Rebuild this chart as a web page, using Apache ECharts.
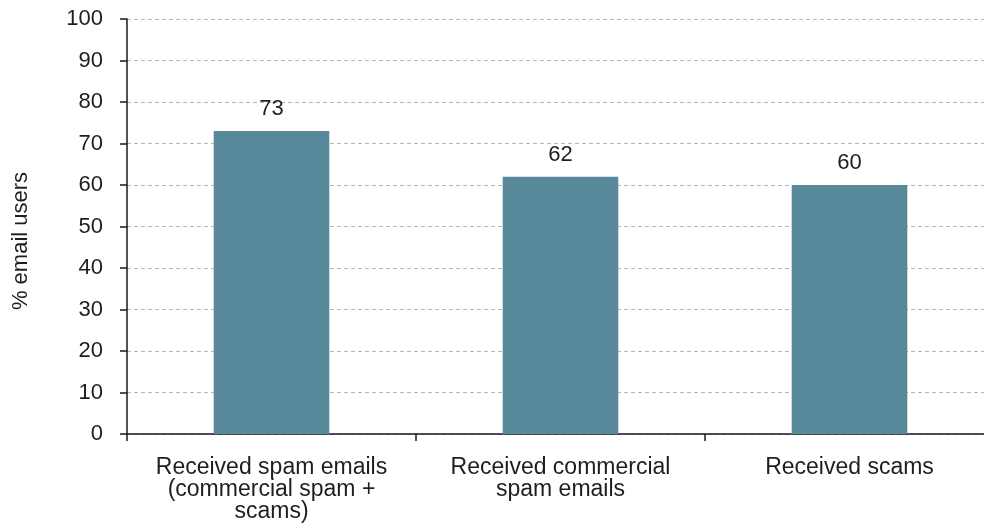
<!DOCTYPE html>
<html>
<head>
<meta charset="utf-8">
<script src="https://cdn.jsdelivr.net/npm/echarts@6/dist/echarts.min.js"></script>
<style>
  html, body { margin: 0; padding: 0; background: #ffffff; }
  #chart { width: 984px; height: 531px; }
</style>
</head>
<body>
<div id="chart"></div>
<script>
// Share of email users who received each kind of unwanted email
const categories = [
  'Received spam emails\n(commercial spam +\nscams)',
  'Received commercial\nspam emails',
  'Received scams'
];
const values = [73, 62, 60];
const yMin = 0;
const yMax = 100;
const yStep = 10;
const yAxisTitle = '% email users';

const FONT = '"Liberation Sans", Arial, sans-serif';
const TEXT = '#1e1e1e';
const SIZE = 22;

const chart = echarts.init(document.getElementById('chart'), null, { renderer: 'canvas' });
chart.setOption({
  animation: false,
  backgroundColor: '#ffffff',
  grid: { left: 127, top: 19, bottom: 97, right: -10, containLabel: false, outerBoundsMode: 'none' },
  xAxis: {
    type: 'category',
    data: categories,
    axisLine: { lineStyle: { color: '#1a1a1a', width: 1.5 } },
    axisTick: { show: true, alignWithLabel: false, interval: 0, length: 7, lineStyle: { color: '#1a1a1a', width: 1.5 } },
    axisLabel: { interval: 0, margin: 23, color: TEXT, fontFamily: FONT, fontSize: 23, lineHeight: 22, align: 'center' },
    splitLine: { show: false }
  },
  yAxis: {
    type: 'value',
    min: yMin,
    max: yMax,
    interval: yStep,
    axisLine: { show: true, lineStyle: { color: '#1a1a1a', width: 1.5 } },
    axisTick: { show: true, length: 7, lineStyle: { color: '#1a1a1a', width: 1.5 } },
    axisLabel: { margin: 24, color: TEXT, fontFamily: FONT, fontSize: SIZE },
    splitLine: { show: true, lineStyle: { color: '#b4b4b4', type: [4, 3], width: 1 } }
  },
  // vertical axis title, placed beside the value labels
  graphic: [{
    type: 'text',
    x: 21,
    y: 241,
    rotation: Math.PI / 2,
    style: {
      text: yAxisTitle,
      fill: TEXT,
      font: SIZE + 'px ' + FONT,
      align: 'center',
      verticalAlign: 'middle'
    }
  }],
  series: [{
    type: 'bar',
    data: values,
    barWidth: '40%',
    itemStyle: { color: '#58899b' },
    label: {
      show: true,
      position: 'top',
      distance: 11,
      color: TEXT,
      fontFamily: FONT,
      fontSize: SIZE
    }
  }]
});
</script>
</body>
</html>
